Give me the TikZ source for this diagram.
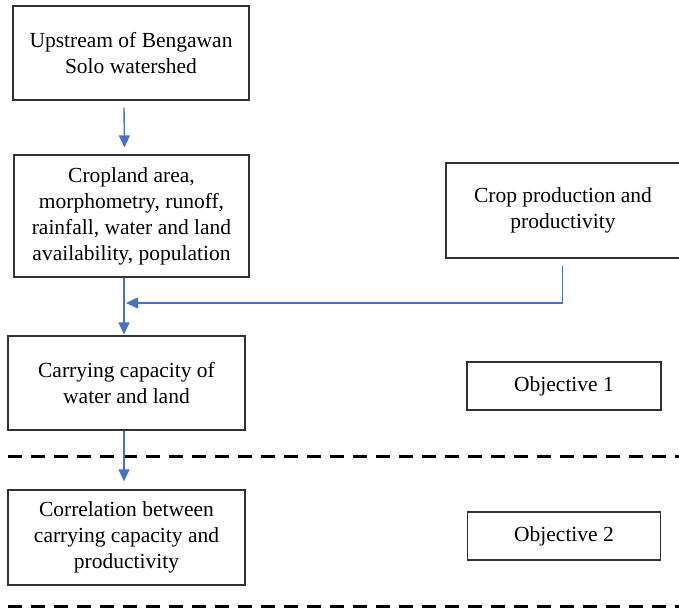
\documentclass[tikz,border=0pt]{standalone}
\usepackage{fontspec}
\setmainfont{Liberation Serif}
\usetikzlibrary{arrows.meta}
\definecolor{arrblue}{RGB}{68,114,196}
\definecolor{boxline}{RGB}{50,50,50}
\begin{document}
\begin{tikzpicture}[x=1pt,y=-1pt,
  box/.style={draw=boxline,line width=1.3pt,align=center,inner sep=0pt,
    font=\fontsize{21.5}{26}\selectfont,text=black},
  arr/.style={draw=arrblue,line width=1.4pt,-{Triangle[length=12pt,width=11pt]}},
  sep/.style={draw=black,line width=3pt,dash pattern=on 14pt off 9pt}]
\useasboundingbox (0,0) rectangle (679,611);
\begin{scope}
\clip (0,0) rectangle (679,611);
\node[box,minimum width=236pt,minimum height=94pt] (b1) at (131,53) {Upstream of Bengawan\\Solo watershed};
\node[box,minimum width=235pt,minimum height=122pt] (b2) at (131.5,216) {Cropland area,\\morphometry, runoff,\\rainfall, water and land\\availability, population};
\node[box,minimum width=234pt,minimum height=95pt] (crop) at (563,210.5) {Crop production and\\productivity};
\node[box,minimum width=237pt,minimum height=94pt] (b4) at (126.5,383) {Carrying capacity of\\water and land};
\node[box,minimum width=194pt,minimum height=48pt] (o1) at (564,386) {Objective 1};
\node[box,minimum width=237pt,minimum height=95pt] (b5) at (126.5,537.5) {Correlation between\\carrying capacity and\\productivity};
\node[box,minimum width=193pt,minimum height=48pt] (o2) at (564,536) {Objective 2};
\coordinate (d1a) at (8,456);
\coordinate (d1b) at (685,456);
\coordinate (d2a) at (8,606);
\coordinate (d2b) at (685,606);
\draw[sep] (d1a) -- (d1b);
\draw[sep] (d2a) -- (d2b);
\coordinate (j) at (124,303);
\draw[arr] ([xshift=-7pt,yshift=-7pt]b1.south) -- ([xshift=-7pt,yshift=7pt]b2.north);
\draw[arr] ([xshift=-7.5pt]b2.south) -- ([xshift=-2.5pt,yshift=1pt]b4.north);
\draw[arr] ([xshift=-0.5pt,yshift=-7pt]crop.south) |- ([xshift=2pt]j);
\draw[arr] ([xshift=-2.5pt]b4.south) -- ([xshift=-2.5pt,yshift=8pt]b5.north);
\end{scope}
\end{tikzpicture}
\end{document}
